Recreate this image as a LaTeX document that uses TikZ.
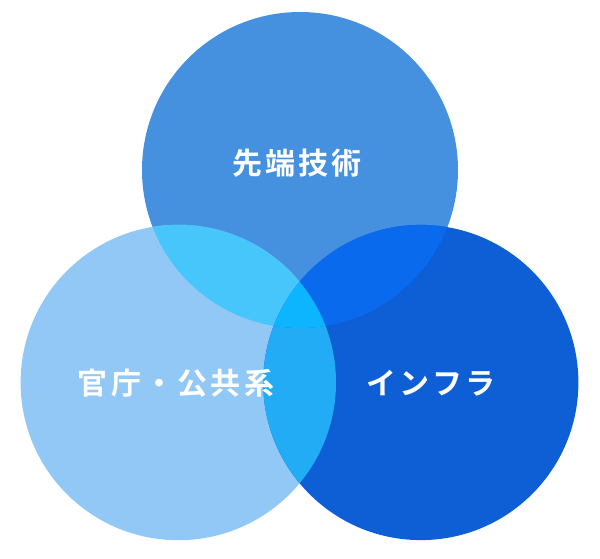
\documentclass[tikz,border=0pt]{standalone}
\usepackage{fontspec}
\newfontfamily\cjk{Noto Sans CJK JP}[BoldFont={Noto Sans CJK JP Bold}, LetterSpace=11]
\definecolor{ctop}{HTML}{4590DF}
\definecolor{cleft}{HTML}{92C8F5}
\definecolor{cright}{HTML}{0E5ED6}
\definecolor{ctl}{HTML}{47C6FC}
\definecolor{ctr}{HTML}{0A6AEE}
\definecolor{clr}{HTML}{22ACF6}
\definecolor{ccen}{HTML}{0DB4FF}
\tikzset{
  label text/.style={text=white, font=\cjk\bfseries\fontsize{30}{36}\selectfont, inner sep=0pt}
}
\begin{document}
\begin{tikzpicture}[x=1pt,y=-1pt]
\useasboundingbox (0,0) rectangle (600,558);
\def\ct{(300,170) circle (158pt)}
\def\cl{(178.3,382.5) circle (157.7pt)}
\def\cr{(420.8,382.5) circle (157.6pt)}
\fill[ctop] \ct;
\fill[cleft] \cl;
\fill[cright] \cr;
\begin{scope}
  \clip \cl;
  \fill[clr] \cr;
\end{scope}
\begin{scope}
  \clip \ct;
  \fill[ctl] \cl;
  \fill[ctr] \cr;
  \clip \cl;
  \fill[ccen] \cr;
\end{scope}
\node[label text] (tech) at (297,163) {先端技術};
\node[label text] (gov) at (176,383) {官庁・公共系};
\node[label text] (infra) at (431,383) {インフラ};
\end{tikzpicture}
\end{document}
